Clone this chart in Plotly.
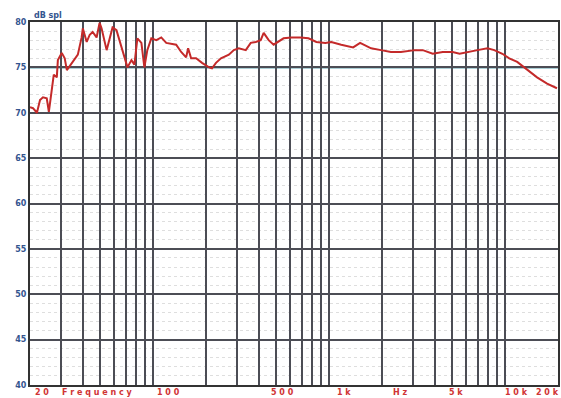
import plotly.graph_objects as go

# Frequency response (Hz, dB SPL)
freq_hz = [20.0, 20.8, 21.9, 22.8, 23.7, 24.9, 25.6, 26.6, 27.3, 28.4, 28.8, 30.3, 31.5, 32.4,
           34.5, 35.9, 37.4, 39.3, 39.9, 42.0, 43.7, 45.4, 47.8, 49.7, 51.0, 54.5, 56.6, 58.9,
           62.0, 64.5, 68.8, 71.6, 75.4, 78.4, 81.5, 85.9, 89.3, 92.8, 97.8, 104.4, 111.4,
           118.9, 135.4, 144.5, 154.2, 158.3, 164.6, 175.6, 189.9, 208.1, 216.3, 227.9, 243.2,
           269.8, 287.9, 307.2, 336.5, 359.1, 383.4, 409.1, 425.4, 454.0, 484.5, 530.6, 551.8,
           612.3, 688.5, 764.0, 847.6, 953, 1030, 1173, 1371, 1502, 1734, 1974, 2248, 2561,
           3072, 3411, 3884, 4426, 5036, 5522, 6126, 6973, 7943, 8690, 9660, 10570, 11730,
           13360, 15210, 17340, 19730]
spl_db = [70.6, 70.5, 70.0, 71.4, 71.7, 71.6, 70.1, 72.5, 74.2, 73.9, 75.8, 76.6, 76.0, 74.7,
          75.5, 76.0, 76.4, 78.3, 79.3, 77.8, 78.6, 78.9, 78.3, 79.9, 79.3, 76.9, 78.0, 79.4,
          79.1, 78.0, 76.1, 75.0, 75.8, 75.3, 78.2, 77.7, 75.0, 76.9, 78.2, 78.0, 78.3,
          77.7, 77.5, 76.7, 76.1, 77.1, 76.0, 76.0, 75.5, 75.0, 74.9, 75.5, 76.0,
          76.4, 76.9, 77.1, 76.9, 77.7, 77.8, 78.0, 78.8, 78.0, 77.5, 78.0, 78.2,
          78.3, 78.3, 78.2, 77.8, 77.7, 77.8, 77.5, 77.2, 77.7, 77.1, 76.9, 76.7, 76.7,
          76.9, 76.9, 76.5, 76.7, 76.7, 76.5, 76.7, 76.9, 77.1, 76.9, 76.5, 76.0, 75.6,
          74.7, 73.9, 73.2, 72.7]

grid_freqs = ([20, 30, 40, 50, 60, 70, 80, 90] +
              [100, 200, 300, 400, 500, 600, 700, 800, 900] +
              [1000, 2000, 3000, 4000, 5000, 6000, 7000, 8000, 9000] +
              [10000, 20000])
y_ticks = [40, 45, 50, 55, 60, 65, 70, 75, 80]

# Letter-spaced labels along the bottom edge, placed as fractions of the plot width
x_label_text = ["2 0", "F r e q u e n c y", "1 0 0", "5 0 0", "1 k", "H z", "5 k", "1 0 k", "2 0 k"]
x_label_frac = [0.005, 0.057, 0.236, 0.453, 0.577, 0.683, 0.789, 0.896, 0.955]

NAVY = "#34558f"
RED = "#d03434"

fig = go.Figure()
fig.add_trace(go.Scatter(
    x=freq_hz, y=spl_db, mode="lines",
    line=dict(color="#c42a2a", width=2),
    hoverinfo="skip", showlegend=False))

# Highlighted 75 dB reference line
fig.add_shape(type="line", xref="paper", x0=0, x1=1, yref="y", y0=75, y1=75,
              line=dict(color="#5a9fae", width=2), layer="below")

annotations = [dict(x=fx, y=-0.004, xref="paper", yref="paper",
                    text=t, showarrow=False, xanchor="left", yanchor="top",
                    font=dict(family="DejaVu Sans", size=8, color=RED, weight="bold"))
               for fx, t in zip(x_label_frac, x_label_text)]
annotations.append(dict(x=0.004, y=1.0, xref="paper", yref="paper", text="dB spl",
                        showarrow=False, xanchor="left", yanchor="bottom",
                        font=dict(family="DejaVu Sans", size=8, color=NAVY, weight="bold")))

fig.update_layout(
    width=561, height=398,
    margin=dict(l=30, r=1, t=22, b=13),
    paper_bgcolor="white", plot_bgcolor="white",
    annotations=annotations,
    xaxis=dict(type="log", range=[1.30103, 4.30103], tickvals=grid_freqs,
               showticklabels=False, ticks="", showgrid=True,
               gridcolor="#4c4d55", gridwidth=1.7, zeroline=False,
               showline=True, linecolor="#333", linewidth=2, mirror=True),
    yaxis=dict(range=[40, 80], tickvals=y_ticks, ticks="", showgrid=True,
               gridcolor="#4c4d55", gridwidth=1.7, zeroline=False,
               showline=True, linecolor="#333", linewidth=2, mirror=True,
               tickfont=dict(family="DejaVu Sans", size=8, color=NAVY, weight="bold"),
               minor=dict(dtick=1, showgrid=True, gridcolor="#dedede",
                          griddash="dot", gridwidth=1)),
)

fig.write_html("out.html")
